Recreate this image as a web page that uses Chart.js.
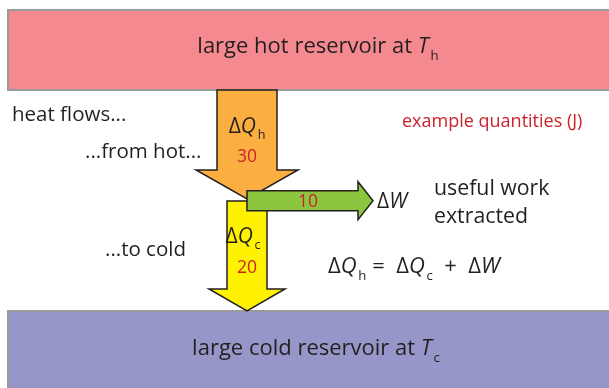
<!DOCTYPE html>
<html>
<head>
<meta charset="utf-8">
<script src="https://cdn.jsdelivr.net/npm/chart.js@4.4.0/dist/chart.umd.min.js"></script>
<style>
  html, body { margin: 0; padding: 0; background: #fff; }
  canvas { display: block; }
</style>
</head>
<body>
<canvas id="heatEngine" width="609" height="388"></canvas>
<script>
// example quantities (J)
var flowNames = ['h', 'c', 'W'];
var flowValues = [30, 20, 10];
var reservoirLabels = ['large hot reservoir at ', 'large cold reservoir at '];
var reservoirSubs = ['h', 'c'];
var sideNotes = ['heat flows...', '...from hot...', '...to cold'];

var FONT = "'Open Sans', sans-serif";
var INK = '#231f20';
var RED = '#cc2229';

// draws a run of pieces: {t, it, sub}
function richText(ctx, parts, x, y, size, align) {
  var widths = parts.map(function (p) {
    ctx.font = (p.it ? 'italic ' : '') + (p.sub ? size * 0.6 : size) + 'px ' + FONT;
    return ctx.measureText(p.t).width + (p.it ? size * 0.08 : 0);
  });
  var total = widths.reduce(function (a, b) { return a + b; }, 0);
  var cx = align === 'center' ? x - total / 2 : x;
  parts.forEach(function (p, i) {
    ctx.font = (p.it ? 'italic ' : '') + (p.sub ? size * 0.6 : size) + 'px ' + FONT;
    ctx.textAlign = 'left';
    ctx.textBaseline = 'alphabetic';
    ctx.fillText(p.t, cx, p.sub ? y + size * 0.3 : y);
    cx += widths[i];
  });
}

function dq(sub) {
  return [{ t: '\u0394' }, { t: 'Q', it: true }, { t: sub, sub: true }];
}

function polygon(ctx, pts, fill) {
  ctx.beginPath();
  pts.forEach(function (p, i) {
    if (i === 0) ctx.moveTo(p[0], p[1]); else ctx.lineTo(p[0], p[1]);
  });
  ctx.closePath();
  ctx.fillStyle = fill;
  ctx.fill();
  ctx.lineWidth = 1.5;
  ctx.strokeStyle = INK;
  ctx.lineJoin = 'miter';
  ctx.stroke();
}

var diagramPlugin = {
  id: 'diagram',
  beforeDatasetsDraw: function (chart) {
    var ctx = chart.ctx;
    var xs = chart.scales.x;
    var ys = chart.scales.y;
    var X = function (v) { return xs.getPixelForValue(v); };
    var Y = function (v) { return ys.getPixelForValue(v); };
    ctx.save();

    // reservoirs
    ctx.fillStyle = '#f48a8f';
    ctx.fillRect(X(8), Y(10), X(615) - X(8), Y(90) - Y(10));
    ctx.strokeStyle = '#9a9a9a';
    ctx.lineWidth = 2;
    ctx.strokeRect(X(8), Y(10), X(615) - X(8), Y(90) - Y(10));
    ctx.fillStyle = '#9696c8';
    ctx.fillRect(X(8), Y(311), X(615) - X(8), Y(395) - Y(311));
    ctx.strokeRect(X(8), Y(311), X(615) - X(8), Y(395) - Y(311));

    ctx.fillStyle = INK;
    richText(ctx, [{ t: reservoirLabels[0] }, { t: 'T', it: true }, { t: reservoirSubs[0], sub: true }], X(318), Y(53), 22, 'center');
    richText(ctx, [{ t: reservoirLabels[1] }, { t: 'T', it: true }, { t: reservoirSubs[1], sub: true }], X(316), Y(355), 22, 'center');

    // arrows: half shaft width = value
    var cx = 247;
    var qh = flowValues[0], qc = flowValues[1], w = flowValues[2];
    polygon(ctx, [
      [X(cx - qh), Y(90)], [X(cx + qh), Y(90)], [X(cx + qh), Y(170)], [X(cx + qh + 21), Y(170)],
      [X(cx), Y(199)], [X(cx - qh - 21), Y(170)], [X(cx - qh), Y(170)]
    ], '#fbaf41');
    polygon(ctx, [
      [X(cx - qc), Y(201)], [X(cx + qc), Y(201)], [X(cx + qc), Y(289)], [X(cx + qc + 18), Y(289)],
      [X(cx), Y(311)], [X(cx - qc - 18), Y(289)], [X(cx - qc), Y(289)]
    ], '#fff200');
    var cy = 200.7;
    polygon(ctx, [
      [X(cx), Y(cy - w)], [X(358), Y(cy - w)], [X(358), Y(cy - w - 9)], [X(373), Y(cy)],
      [X(358), Y(cy + w + 9)], [X(358), Y(cy + w)], [X(cx), Y(cy + w)]
    ], '#8cc63f');

    // arrow labels
    ctx.fillStyle = INK;
    richText(ctx, dq(flowNames[0]), X(247), Y(133), 21, 'center');
    richText(ctx, dq(flowNames[1]), X(243), Y(243), 21, 'center');
    richText(ctx, [{ t: '\u0394' }, { t: 'W', it: true }], X(377), Y(208), 21, 'left');

    ctx.fillStyle = RED;
    ctx.font = '17.5px ' + FONT;
    ctx.textAlign = 'center';
    ctx.fillText(String(qh), X(247), Y(162));
    ctx.fillText(String(qc), X(247), Y(273));
    ctx.fillText(String(w), X(308), Y(207));
    ctx.textAlign = 'left';
    ctx.font = '18px ' + FONT;
    ctx.fillText('example quantities (J)', X(402), Y(127));

    // notes
    ctx.fillStyle = INK;
    ctx.font = '20.5px ' + FONT;
    ctx.fillText(sideNotes[0], X(12), Y(121));
    ctx.fillText(sideNotes[1], X(85), Y(158));
    ctx.fillText(sideNotes[2], X(105), Y(256));
    ctx.font = '21.3px ' + FONT;
    ctx.fillText('useful work', X(434), Y(195));
    ctx.fillText('extracted', X(434), Y(223));

    richText(ctx, dq(flowNames[0]).concat([{ t: ' =  ' }], dq(flowNames[1]), [{ t: '  +  \u0394' }, { t: 'W', it: true }]), X(328), Y(273), 22, 'left');

    ctx.restore();
  }
};

new Chart(document.getElementById('heatEngine').getContext('2d'), {
  type: 'scatter',
  data: { datasets: [{ data: [], pointRadius: 0 }] },
  options: {
    responsive: false,
    animation: false,
    layout: { padding: 0 },
    plugins: { legend: { display: false }, tooltip: { enabled: false } },
    scales: {
      x: { type: 'linear', min: 0, max: 609, display: false },
      y: { type: 'linear', min: 0, max: 388, reverse: true, display: false }
    }
  },
  plugins: [diagramPlugin]
});
</script>
</body>
</html>
